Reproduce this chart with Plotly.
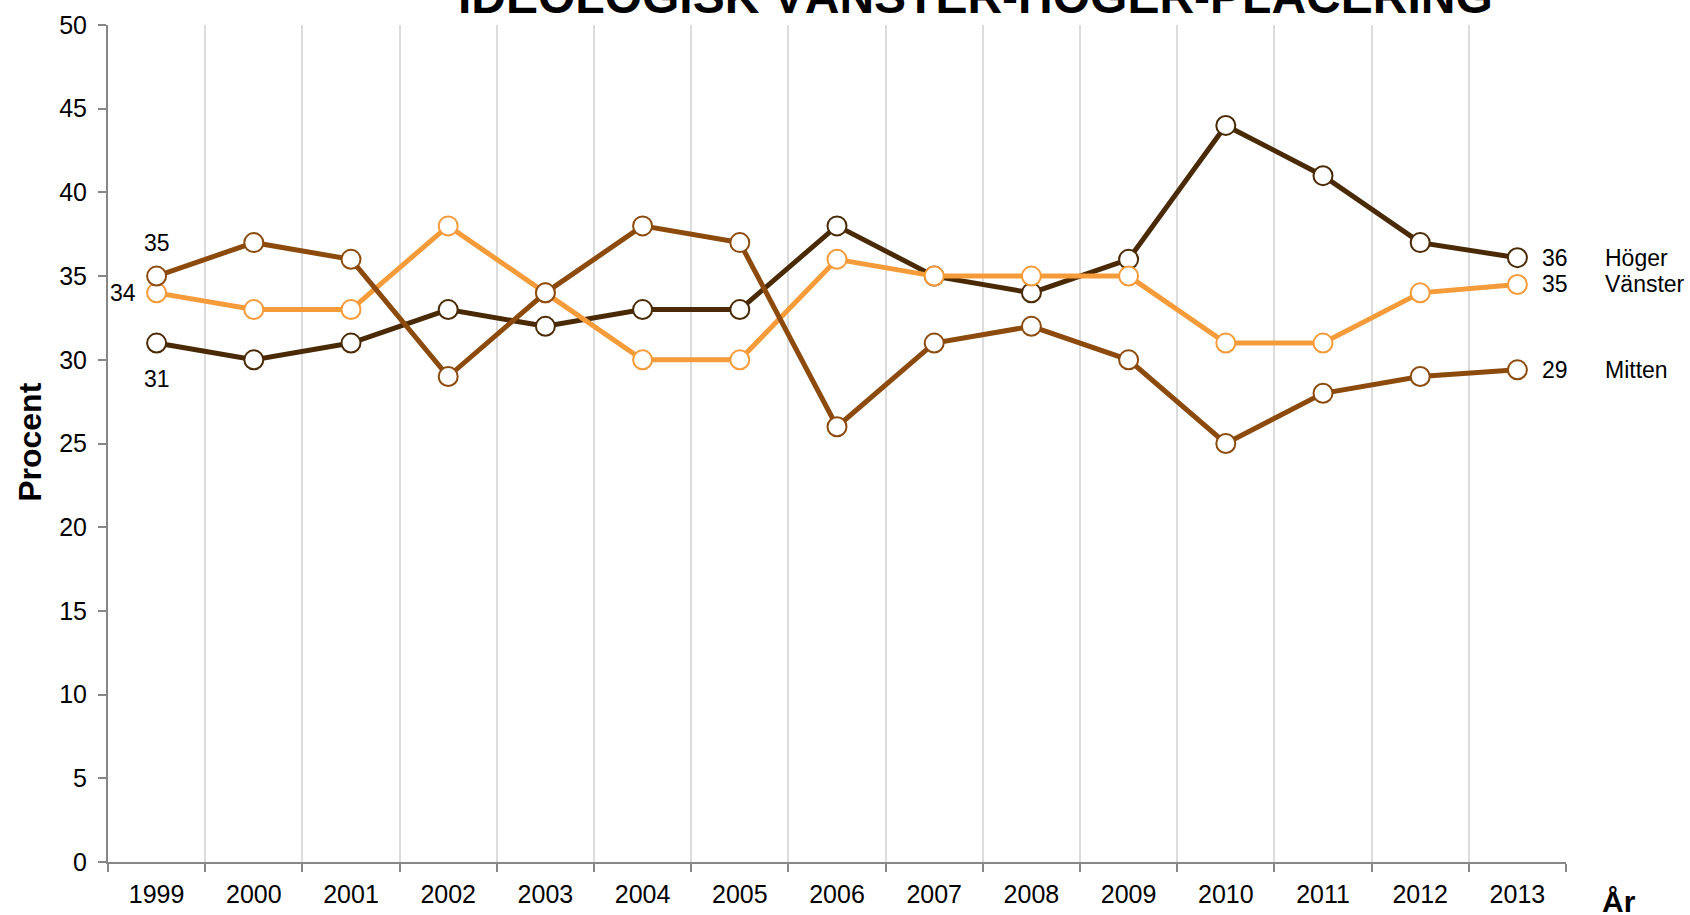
import plotly.graph_objects as go

years = ["1999", "2000", "2001", "2002", "2003", "2004", "2005", "2006",
         "2007", "2008", "2009", "2010", "2011", "2012", "2013"]
hoger = [31, 30, 31, 33, 32, 33, 33, 38, 35, 34, 36, 44, 41, 37, 36.1]
vanster = [34, 33, 33, 38, 34, 30, 30, 36, 35, 35, 35, 31, 31, 34, 34.5]
mitten = [35, 37, 36, 29, 34, 38, 37, 26, 31, 32, 30, 25, 28, 29, 29.4]

series_names = ["Höger", "Vänster", "Mitten"]
series_values = [hoger, vanster, mitten]
series_colors = ["#4a2a05", "#f59b3a", "#8c4a0c"]
end_labels = ["36", "35", "29"]

FONT = "Arial, Liberation Sans, sans-serif"
xs = list(range(len(years)))

fig = go.Figure()
for name, vals, col in zip(series_names, series_values, series_colors):
    fig.add_trace(go.Scatter(
        x=xs, y=vals, mode="lines+markers", name=name,
        line=dict(color=col, width=5),
        marker=dict(size=19, color="white", line=dict(color=col, width=2)),
        cliponaxis=False, showlegend=False,
    ))

ann = []
# start labels (1999)
ann.append(dict(x=0, y=mitten[0], text="35", showarrow=False, yshift=33,
                font=dict(size=23, color="black", family=FONT)))
ann.append(dict(x=0, y=vanster[0], text="34", showarrow=False, xshift=-34,
                font=dict(size=23, color="black", family=FONT)))
ann.append(dict(x=0, y=hoger[0], text="31", showarrow=False, yshift=-36,
                font=dict(size=23, color="black", family=FONT)))
# end labels (2013)
last = len(years) - 1
for name, vals, lab in zip(series_names, series_values, end_labels):
    ann.append(dict(x=last, y=vals[-1], text=lab, showarrow=False, xshift=38,
                    font=dict(size=23, color="black", family=FONT)))
    ann.append(dict(x=last, y=vals[-1], text=name, showarrow=False, xshift=86,
                    xanchor="left",
                    font=dict(size=23, color="black", family=FONT)))

ann.append(dict(xref="paper", yref="paper", x=0.595, y=1, yanchor="bottom",
                xanchor="center", text="<b>IDEOLOGISK VÄNSTER-HÖGER-PLACERING</b>",
                showarrow=False, font=dict(size=48, color="black", family=FONT)))
ann.append(dict(xref="paper", yref="paper", x=-0.0535, y=0.502, textangle=-90,
                xanchor="center", yanchor="middle",
                text="<b>Procent</b>", showarrow=False,
                font=dict(size=32, color="black", family=FONT)))
ann.append(dict(xref="paper", yref="paper", x=1.0365, y=-0.047,
                xanchor="center", yanchor="middle",
                text="<b>År</b>", showarrow=False,
                font=dict(size=30, color="black", family=FONT)))

fig.update_layout(
    width=1690, height=915,
    margin=dict(l=108, r=124, t=25, b=53),
    paper_bgcolor="white", plot_bgcolor="white",
    annotations=ann,
    font=dict(family=FONT, color="black"),
)
fig.update_xaxes(
    range=[-0.5, len(years) - 0.5],
    tickmode="array", tickvals=xs, ticktext=years,
    ticks="", showgrid=False, zeroline=False, automargin=False,
    showline=True, linecolor="#878787", linewidth=2,
    tickfont=dict(size=25, family=FONT, color="black"),
    ticklabelstandoff=9,
    minor=dict(tick0=-0.5, dtick=1, showgrid=True, gridcolor="#dcdcdc",
               gridwidth=2, ticks="outside", ticklen=8, tickcolor="#878787",
               tickwidth=2),
)
fig.update_yaxes(
    range=[0, 50], dtick=5, tick0=0,
    showgrid=False, zeroline=False, automargin=False,
    showline=True, linecolor="#878787", linewidth=2,
    ticks="outside", ticklen=8, tickcolor="#878787", tickwidth=2,
    tickfont=dict(size=25, family=FONT, color="black"),
    ticklabelstandoff=6,
)

fig.write_html("out.html",
               config={"displayModeBar": False},
               post_script="document.body.style.margin='0';"
                           "document.body.style.overflow='hidden';")
